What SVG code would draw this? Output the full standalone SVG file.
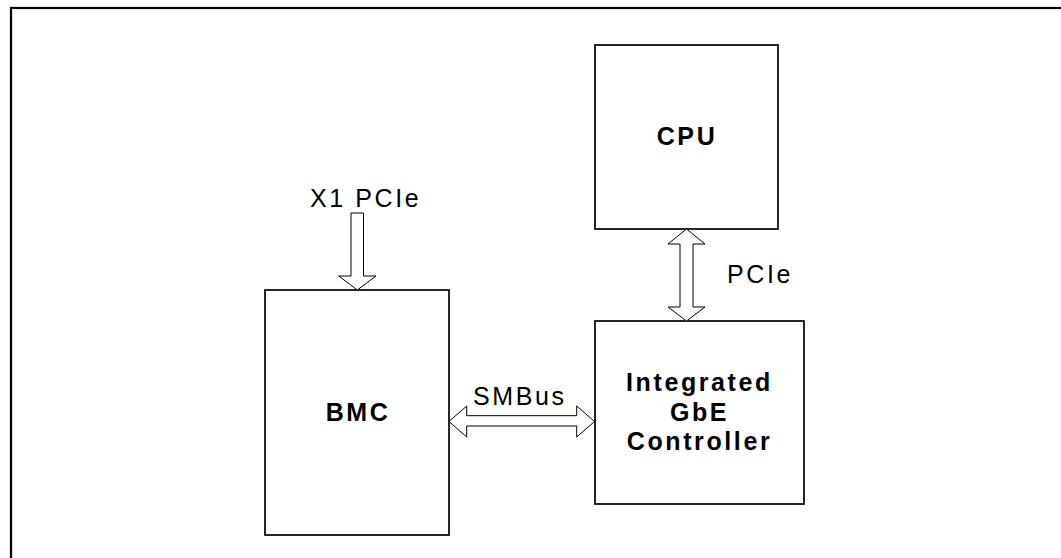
<svg xmlns="http://www.w3.org/2000/svg" width="1061" height="558" viewBox="0 0 1061 558">
<style>
.box{fill:#fff;stroke:#000;stroke-width:1.7}
.arr{fill:#fff;stroke:#000;stroke-width:1}
.lbl{font-family:"Liberation Sans",Arial,sans-serif;font-size:25px;letter-spacing:2.6px;fill:#000}
.nm{font-family:"Liberation Sans",Arial,sans-serif;font-size:25px;font-weight:bold;letter-spacing:2.6px;fill:#000;text-anchor:middle}
</style>
<rect width="1061" height="558" fill="#fff"/>
<rect x="11" y="8" width="1100" height="600" fill="none" stroke="#000" stroke-width="2.2"/>
<g id="cpu">
<rect class="box" x="595" y="45" width="183" height="184"/>
<text class="nm" x="687" y="145">CPU</text>
</g>
<g id="bmc">
<rect class="box" x="265" y="290" width="184" height="245"/>
<text class="nm" x="358" y="421">BMC</text>
</g>
<g id="gbe">
<rect class="box" x="595" y="321" width="209" height="183"/>
<text class="nm" x="699.5" y="391">Integrated</text>
<text class="nm" x="699.5" y="421">GbE</text>
<text class="nm" x="699.5" y="450">Controller</text>
</g>
<g id="connectors">
<polygon class="arr" points="351,213 363.5,213 363.5,276 376,276 357.3,290 338.7,276 351,276"/>
<polygon class="arr" points="686.5,229 705,244 693,244 693,307 705,307 686.5,321 668,307 680,307 680,244 668,244"/>
<polygon class="arr" points="449,421.5 466.7,406 466.7,415.7 576.7,415.7 576.7,406 594.5,421.5 576.7,437 576.7,426 466.7,426 466.7,437"/>
<text class="lbl" x="310" y="207">X1 PCIe</text>
<text class="lbl" x="727" y="283">PCIe</text>
<text class="lbl" x="473" y="405">SMBus</text>
</g>
</svg>
